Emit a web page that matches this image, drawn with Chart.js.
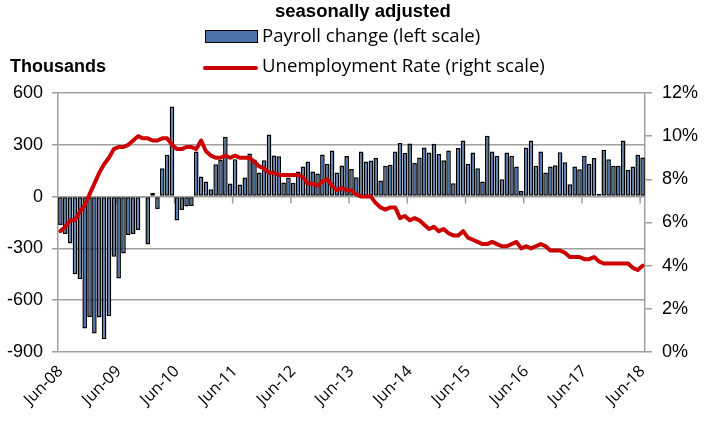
<!DOCTYPE html>
<html>
<head>
<meta charset="utf-8">
<script src="https://cdn.jsdelivr.net/npm/chart.js@4.4.1/dist/chart.umd.min.js"></script>
<style>
  html, body { margin: 0; padding: 0; background: #fff; }
  #wrap { position: relative; width: 712px; height: 422px; overflow: hidden; }
  #chart { position: absolute; left: 0; top: 0; }
  .txt { position: absolute; white-space: nowrap; color: #000; }
  .title { left: 275px; top: 1px; font: bold 18.5px/20px "Liberation Sans", Arial, sans-serif; }
  .units { left: 10px; top: 56px; font: bold 18px/20px "Liberation Sans", Arial, sans-serif; }
  .leg { left: 262px; font: 18.6px/24px "Open Sans", sans-serif; }
  .box { position: absolute; left: 205px; top: 30px; width: 51px; height: 11px; background: #4a72a8; border: 1px solid #000; }
  .redline { position: absolute; left: 203px; top: 66px; width: 55px; height: 4px; background: #cc0000; border-radius: 2px; }
</style>
</head>
<body>
<div id="wrap">
  <canvas id="chart" width="712" height="422"></canvas>
  <div class="txt title">seasonally adjusted</div>
  <div class="box"></div>
  <div class="txt leg" style="top:23px">Payroll change (left scale)</div>
  <div class="txt units">Thousands</div>
  <div class="redline"></div>
  <div class="txt leg" style="top:53px">Unemployment Rate (right scale)</div>
</div>
<script>
// categories: Jun-08 .. Jun-18, monthly
var monthNames = ['Jan', 'Feb', 'Mar', 'Apr', 'May', 'Jun', 'Jul', 'Aug', 'Sep', 'Oct', 'Nov', 'Dec'];
var years = ['08', '09', '10', '11', '12', '13', '14', '15', '16', '17', '18'];

// nonfarm payroll change, thousands
var payrolls = [
    -164, -217, -271, -449, -478, -764, -697,                       // 2008 Jun-Dec
    -793, -700, -826, -693, -348, -474, -329, -223, -217, -194, -7, -277, // 2009
    23, -72, 164, 242, 522, -139, -77, -58, -54, 261, 116, 87,       // 2010
    43, 188, 213, 346, 76, 216, 70, 110, 250, 215, 140, 210,          // 2011
    360, 238, 233, 81, 110, 80, 145, 175, 203, 145, 134, 244,         // 2012
    190, 267, 140, 180, 235, 160, 112, 261, 203, 209, 223, 93,        // 2013
    178, 184, 261, 310, 252, 308, 195, 226, 284, 255, 306, 246,       // 2014
    211, 267, 77, 281, 325, 190, 255, 164, 87, 352, 261, 236,         // 2015
    101, 255, 236, 174, 33, 284, 325, 178, 261, 139, 174, 182,        // 2016
    257, 199, 72, 174, 159, 236, 190, 223, 15, 271, 217, 178,         // 2017
    178, 325, 155, 174, 242, 226                                      // 2018 Jan-Jun
];

// unemployment rate, percent
var unemployment = [
    5.6, 5.8, 6.1, 6.1, 6.5, 6.8, 7.3,
    7.8, 8.3, 8.7, 9.0, 9.4, 9.5, 9.5, 9.6, 9.8, 10.0, 9.9, 9.9,
    9.8, 9.8, 9.9, 9.9, 9.6, 9.4, 9.4, 9.5, 9.5, 9.4, 9.8, 9.3,
    9.1, 9.0, 9.0, 9.1, 9.0, 9.1, 9.0, 9.0, 9.0, 8.8, 8.6, 8.5,
    8.3, 8.3, 8.2, 8.2, 8.2, 8.2, 8.2, 8.1, 7.8, 7.8, 7.7, 7.9,
    8.0, 7.7, 7.5, 7.6, 7.5, 7.5, 7.3, 7.2, 7.2, 7.2, 6.9, 6.7,
    6.6, 6.7, 6.7, 6.2, 6.3, 6.1, 6.2, 6.1, 5.9, 5.7, 5.8, 5.6,
    5.7, 5.5, 5.4, 5.4, 5.6, 5.3, 5.2, 5.1, 5.0, 5.0, 5.1, 5.0,
    4.9, 4.9, 5.0, 5.1, 4.8, 4.9, 4.8, 4.9, 5.0, 4.9, 4.7, 4.7,
    4.7, 4.6, 4.4, 4.4, 4.4, 4.3, 4.3, 4.4, 4.2, 4.1, 4.1, 4.1,
    4.1, 4.1, 4.1, 3.9, 3.8, 4.0
];

// build month labels
var months = [];
years.forEach(function (yy, yi) {
    monthNames.forEach(function (m, mi) {
        if ((yi === 0 && mi < 5) || (yi === years.length - 1 && mi > 5)) {
            return;
        }
        months.push(m + '-' + yy);
    });
});

var gridGray = '#9f9f9f';

// small tick marks on the zero line, one per June
var zeroTicks = {
    id: 'zeroTicks',
    beforeDatasetsDraw: function (chart) {
        var x = chart.scales.x;
        var y0 = chart.scales.y.getPixelForValue(0);
        var half = (x.getPixelForValue(1) - x.getPixelForValue(0)) / 2;
        var ctx = chart.ctx;
        ctx.save();
        ctx.strokeStyle = gridGray;
        ctx.lineWidth = 1.5;
        for (var i = 0; i < months.length; i += 12) {
            var px = x.getPixelForValue(i) - half;
            ctx.beginPath();
            ctx.moveTo(px, y0);
            ctx.lineTo(px, y0 + 7);
            ctx.stroke();
        }
        ctx.restore();
    }
};

new Chart(document.getElementById('chart'), {
    data: {
        labels: months,
        datasets: [
            {
                type: 'line',
                label: 'Unemployment Rate (right scale)',
                data: unemployment,
                yAxisID: 'y1',
                borderColor: '#cc0000',
                borderWidth: 4,
                pointRadius: 0,
                tension: 0,
                borderJoinStyle: 'round',
                borderCapStyle: 'round',
                order: 0
            },
            {
                type: 'bar',
                label: 'Payroll change (left scale)',
                data: payrolls,
                yAxisID: 'y',
                backgroundColor: '#4a72a8',
                borderColor: '#000',
                borderWidth: 1.5,
                borderSkipped: false,
                categoryPercentage: 1,
                barPercentage: 0.95,
                order: 1
            }
        ]
    },
    options: {
        responsive: false,
        animation: false,
        layout: { padding: { top: 93, left: 0, right: 0, bottom: 0 } },
        plugins: {
            legend: { display: false },
            tooltip: { enabled: false }
        },
        scales: {
            x: {
                type: 'category',
                offset: true,
                grid: { display: false, drawTicks: false },
                border: { display: false },
                ticks: {
                    autoSkip: false,
                    minRotation: 45,
                    maxRotation: 45,
                    padding: 10,
                    color: '#000',
                    font: { family: '"Open Sans", sans-serif', size: 16 },
                    callback: function (val, index) {
                        return index % 12 === 0 ? months[index] : '';
                    }
                },
                afterFit: function (scale) { scale.height = 70; }
            },
            y: {
                position: 'left',
                min: -900,
                max: 600,
                grid: { color: gridGray, lineWidth: 1.5, tickLength: 6 },
                border: { display: true, color: gridGray, width: 1.5 },
                ticks: {
                    stepSize: 300,
                    padding: 9,
                    color: '#000',
                    font: { family: '"Liberation Sans", Arial, sans-serif', size: 18 }
                },
                afterFit: function (scale) { scale.width = 58; }
            },
            y1: {
                position: 'right',
                min: 0,
                max: 12,
                grid: { drawOnChartArea: false, color: gridGray, lineWidth: 1.5, tickLength: 7 },
                border: { display: true, color: gridGray, width: 1.5 },
                ticks: {
                    stepSize: 2,
                    padding: 10,
                    color: '#000',
                    font: { family: '"Liberation Sans", Arial, sans-serif', size: 18 },
                    callback: function (v) { return v + '%'; }
                },
                afterFit: function (scale) { scale.width = 67; }
            }
        }
    },
    plugins: [zeroTicks]
});
</script>
</body>
</html>
